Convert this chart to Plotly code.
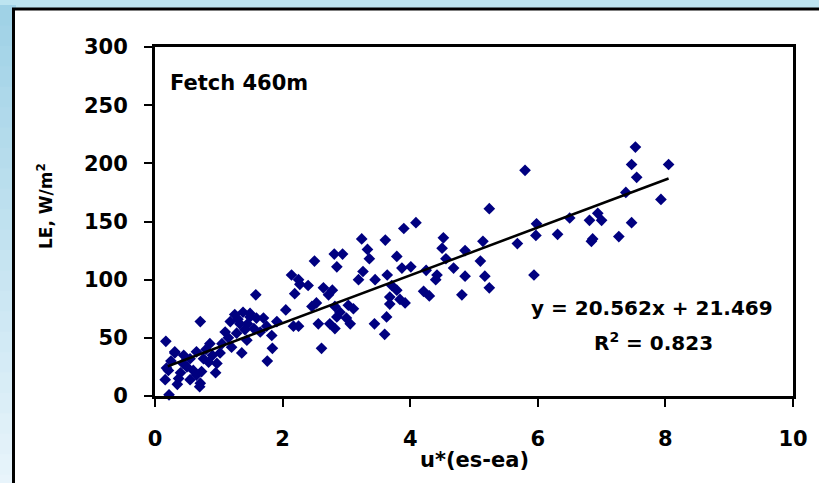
import plotly.graph_objects as go

# Measured latent heat flux against u*(es-ea), fetch 460 m
u_es_ea = [
    7.53, 7.47, 8.05, 7.55, 7.38, 7.93, 7.47, 7.27, 6.84, 6.86, 6.81, 6.94, 7.00, 6.50,
    6.31, 5.98, 5.97, 5.68, 5.80, 5.24, 5.14, 4.86, 5.10, 4.86, 5.17, 5.24, 5.94, 4.81,
    4.09, 3.90, 3.24, 3.61, 4.52, 4.50, 2.81, 2.94, 3.33, 3.36, 2.50, 2.85, 3.79, 3.26,
    3.64, 3.87, 4.01, 3.45, 3.19, 4.25, 4.42, 4.68, 4.56, 4.40, 4.21, 4.30,
    2.14, 2.27, 2.40, 2.64, 2.78, 2.19, 2.72, 3.71, 3.79, 3.68, 3.84, 3.92, 3.68, 2.46,
    2.53, 2.82, 2.90, 2.85, 3.03, 3.11, 3.00, 2.74, 2.82, 3.06, 2.56, 3.63, 3.44, 3.60,
    2.61, 2.05, 2.25,
    1.58, 0.71, 0.17, 1.83, 1.84, 1.76, 1.25, 1.18, 1.33, 1.49, 1.10, 1.28, 1.41, 1.44,
    1.36, 0.86, 1.02, 0.97, 0.65, 0.55, 0.31, 0.44, 0.21, 0.16, 0.37, 0.55, 0.71, 0.73,
    0.22, 0.84, 0.60, 0.76, 1.91, 1.70, 2.17, 1.59, 1.49, 2.25, 0.18, 0.31,
    0.25, 0.40, 0.50, 0.65, 0.90, 1.05, 0.35, 0.70, 0.80, 1.15, 1.20, 0.45, 0.95,
    1.30, 1.45, 1.55, 1.38, 1.65, 1.75,
]
le_flux = [
    214, 199, 199, 188, 175, 169, 149, 137, 133, 135, 151, 157, 151, 153,
    139, 148, 138, 131, 194, 161, 133, 125, 116, 103, 103, 93, 104, 87,
    149, 144, 135, 134, 136, 127, 122, 122, 126, 118, 116, 111, 120, 107,
    104, 110, 111, 100, 100, 108, 104, 110, 118, 100, 90, 86,
    104, 96, 95, 93, 91, 88, 87, 95, 91, 85, 83, 80, 79, 77,
    80, 77, 72, 68, 78, 75, 67, 62, 58, 62, 62, 68, 62, 53,
    41, 74, 60,
    87, 64, 47, 52, 41, 30, 70, 64, 62, 68, 55, 54, 57, 48,
    37, 45, 37, 28, 38, 32, 38, 28, 22, 14, 15, 14, 11, 21,
    1, 29, 22, 32, 64, 67, 60, 67, 71, 100, 24, 37,
    30, 20, 25, 18, 35, 45, 10, 8, 40, 50, 42, 35, 20,
    66, 62, 58, 72, 55, 60,
]

# Least-squares fit reported on the chart
slope = 20.562
intercept = 21.469
r_squared = 0.823
fit_x = [0.2, 8.05]
fit_y = [slope * v + intercept for v in fit_x]

x_ticks = [0, 2, 4, 6, 8, 10]
y_ticks = [0, 50, 100, 150, 200, 250, 300]

FONT = "DejaVu Sans"

fig = go.Figure()
fig.add_trace(go.Scatter(
    x=u_es_ea, y=le_flux, mode="markers",
    marker=dict(symbol="diamond", size=9, color="#000080", line=dict(width=0)),
    showlegend=False, cliponaxis=False,
))
fig.add_trace(go.Scatter(
    x=fit_x, y=fit_y, mode="lines",
    line=dict(color="black", width=2.5), showlegend=False,
))

# Plot-area pixel geometry inside the 819x483 page
L, R, T, B = 155, 793, 47, 396
W, H = R - L, B - T


def px(xp):
    return (xp - L) / W


def py(yp):
    return (B - yp) / H


shapes = []
# Soft blue slide background around the chart: top strip and a vertical gradient on the left
shapes.append(dict(type="rect", xref="paper", yref="paper", x0=px(-5), x1=px(830),
                   y0=py(12), y1=py(-5), fillcolor="#bde4f0", line=dict(width=0), layer="below"))
top_rgb = (160, 210, 230)
bot_rgb = (232, 244, 251)
n = 24
for i in range(n):
    t = i / (n - 1)
    c = tuple(int(round(a + (b - a) * t)) for a, b in zip(top_rgb, bot_rgb))
    y0p = 5 + i * (490 / n)
    shapes.append(dict(type="rect", xref="paper", yref="paper", x0=px(-5), x1=px(16),
                       y0=py(y0p + 490 / n + 1), y1=py(y0p), fillcolor="rgb(%d,%d,%d)" % c,
                       line=dict(width=0), layer="below"))
# White chart area with black frame
shapes.append(dict(type="rect", xref="paper", yref="paper", x0=px(13.5), x1=px(840),
                   y0=py(500), y1=py(9), fillcolor="white",
                   line=dict(color="black", width=3), layer="below"))

axis_common = dict(
    showgrid=False, zeroline=False, showline=True, linecolor="black", linewidth=3,
    mirror=True, ticks="outside", ticklen=8, tickwidth=2, tickcolor="black",
    tickfont=dict(family=FONT, size=21, color="black", weight="bold"),
)

fig.update_layout(
    width=819, height=483,
    margin=dict(l=L, r=819 - R, t=T, b=483 - B),
    paper_bgcolor="#dceef7", plot_bgcolor="white",
    xaxis=dict(range=[0, 10], tickvals=x_ticks, ticklabelstandoff=14, **axis_common),
    yaxis=dict(range=[0, 300], tickvals=y_ticks, ticklabelstandoff=12, **axis_common),
    shapes=shapes,
    annotations=[
        dict(text="Fetch 460m", xref="paper", yref="paper", x=px(168), y=py(83),
             xanchor="left", yanchor="middle", showarrow=False,
             font=dict(family=FONT, size=21, color="black", weight="bold")),
        dict(text="y = %.3fx + %.3f" % (slope, intercept), xref="paper", yref="paper",
             x=px(651.5), y=py(308), xanchor="center", yanchor="middle", showarrow=False,
             font=dict(family=FONT, size=20, color="black", weight="bold")),
        dict(text="R<sup>2</sup> = %.3f" % r_squared, xref="paper", yref="paper",
             x=px(653.5), y=py(342), xanchor="center", yanchor="middle", showarrow=False,
             font=dict(family=FONT, size=20, color="black", weight="bold")),
        dict(text="u*(es-ea)", xref="paper", yref="paper", x=px(474), y=py(460),
             xanchor="center", yanchor="middle", showarrow=False,
             font=dict(family=FONT, size=21, color="black", weight="bold")),
        dict(text="LE, W/m<sup>2</sup>", xref="paper", yref="paper", x=px(45), y=py(206),
             xanchor="center", yanchor="middle", textangle=-90, showarrow=False,
             font=dict(family=FONT, size=17, color="black", weight="bold")),
    ],
)

fig.write_html("out.html")
